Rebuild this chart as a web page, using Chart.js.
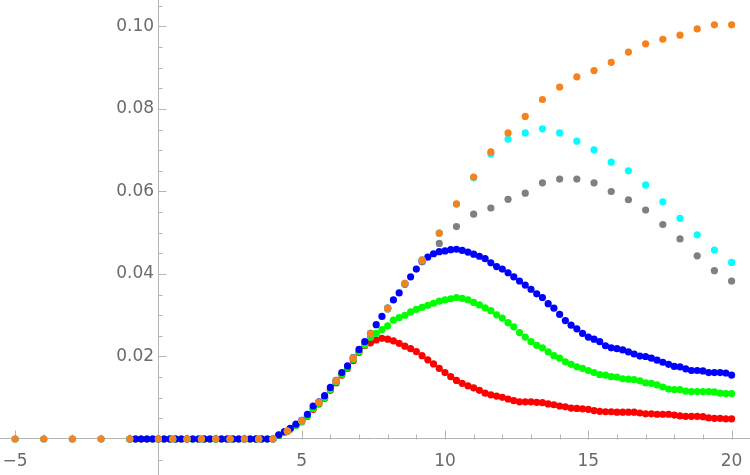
<!DOCTYPE html>
<html>
<head>
<meta charset="utf-8">
<script src="https://cdn.jsdelivr.net/npm/chart.js@4.4.1/dist/chart.umd.min.js"></script>
<style>
  html, body { margin: 0; padding: 0; background: #fff; }
  #wrap { width: 750px; height: 475px; position: relative; }
</style>
</head>
<body>
<div id="wrap"><canvas id="chart"></canvas></div>
<script>
// fine grid (blue / green / red), step 0.2
const fineX = [
  -1.0, -0.8, -0.6, -0.4, -0.2, 0.0, 0.2, 0.4, 0.6, 0.8,
  1.0, 1.2, 1.4, 1.6, 1.8, 2.0, 2.2, 2.4, 2.6, 2.8,
  3.0, 3.2, 3.4, 3.6, 3.8, 4.0,
  4.2, 4.4, 4.6, 4.8, 5.0, 5.2, 5.4, 5.6, 5.8,
  6.0, 6.2, 6.4, 6.6, 6.8, 7.0, 7.2, 7.4, 7.6, 7.8,
  8.0, 8.2, 8.4, 8.6, 8.8, 9.0, 9.2, 9.4, 9.6, 9.8,
  10.0, 10.2, 10.4, 10.6, 10.8, 11.0, 11.2, 11.4, 11.6, 11.8,
  12.0, 12.2, 12.4, 12.6, 12.8, 13.0, 13.2, 13.4, 13.6, 13.8,
  14.0, 14.2, 14.4, 14.6, 14.8, 15.0, 15.2, 15.4, 15.6, 15.8,
  16.0, 16.2, 16.4, 16.6, 16.8, 17.0, 17.2, 17.4, 17.6, 17.8,
  18.0, 18.2, 18.4, 18.6, 18.8, 19.0, 19.2, 19.4, 19.6, 19.8,
  20.0
];

const blueY = [
  0, 0, 0, 0, 0, 0, 0, 0, 0, 0,
  0, 0, 0, 0, 0, 0, 0, 0, 0, 0,
  0, 0, 0, 0, 0, 0,
  0.0010, 0.0018, 0.0026, 0.0036, 0.0045, 0.0060, 0.0080, 0.0090, 0.0105,
  0.0125, 0.0142, 0.0161, 0.0177, 0.0197, 0.0217, 0.0236, 0.0256, 0.0277, 0.0297,
  0.0317, 0.0337, 0.0354, 0.0376, 0.0393, 0.0412, 0.0430, 0.0441, 0.0449, 0.0454,
  0.0456, 0.0459, 0.0460, 0.0457, 0.0453, 0.0448, 0.0443, 0.0437, 0.0427, 0.0418,
  0.0412, 0.0403, 0.0393, 0.0383, 0.0373, 0.0363, 0.0352, 0.0343, 0.0328, 0.0317,
  0.0302, 0.0287, 0.0276, 0.0267, 0.0256, 0.0247, 0.0242, 0.0236, 0.0226, 0.0221,
  0.0219, 0.0216, 0.0211, 0.0206, 0.0201, 0.0200, 0.0196, 0.0191, 0.0186, 0.0181,
  0.0176, 0.0175, 0.0170, 0.0166, 0.0166, 0.0165, 0.0161, 0.0161, 0.0161, 0.0160,
  0.0155
];

const greenY = [
  0, 0, 0, 0, 0, 0, 0, 0, 0, 0,
  0, 0, 0, 0, 0, 0, 0, 0, 0, 0,
  0, 0, 0, 0, 0, 0,
  0.0009, 0.0016, 0.0024, 0.0033, 0.0042, 0.0056, 0.0074, 0.0086, 0.0100,
  0.0120, 0.0138, 0.0157, 0.0173, 0.0193, 0.0212, 0.0228, 0.0246, 0.0256, 0.0265,
  0.0274, 0.0288, 0.0294, 0.0300, 0.0308, 0.0314, 0.0319, 0.0324, 0.0329, 0.0334,
  0.0337, 0.0340, 0.0343, 0.0341, 0.0337, 0.0331, 0.0325, 0.0318, 0.0311, 0.0301,
  0.0293, 0.0282, 0.0272, 0.0258, 0.0247, 0.0236, 0.0227, 0.0221, 0.0211, 0.0202,
  0.0196, 0.0187, 0.0181, 0.0175, 0.0171, 0.0166, 0.0161, 0.0156, 0.0155, 0.0151,
  0.0150, 0.0146, 0.0145, 0.0144, 0.0141, 0.0136, 0.0135, 0.0131, 0.0126, 0.0121,
  0.0120, 0.0120, 0.0116, 0.0115, 0.0115, 0.0115, 0.0115, 0.0114, 0.0111, 0.0110,
  0.0110
];

const redY = [
  0, 0, 0, 0, 0, 0, 0, 0, 0, 0,
  0, 0, 0, 0, 0, 0, 0, 0, 0, 0,
  0, 0, 0, 0, 0, 0,
  0.0009, 0.0016, 0.0024, 0.0033, 0.0042, 0.0055, 0.0072, 0.0085, 0.0099,
  0.0118, 0.0136, 0.0155, 0.0171, 0.0190, 0.0210, 0.0226, 0.0233, 0.0240, 0.0244,
  0.0242, 0.0238, 0.0232, 0.0225, 0.0219, 0.0212, 0.0202, 0.0192, 0.0182, 0.0171,
  0.0161, 0.0151, 0.0142, 0.0135, 0.0129, 0.0124, 0.0118, 0.0111, 0.0107, 0.0104,
  0.0101, 0.0097, 0.0093, 0.0090, 0.0090, 0.0090, 0.0089, 0.0088, 0.0085, 0.0083,
  0.0080, 0.0078, 0.0075, 0.0074, 0.0073, 0.0072, 0.0069, 0.0067, 0.0066, 0.0066,
  0.0065, 0.0065, 0.0065, 0.0065, 0.0063, 0.0061, 0.0061, 0.0060, 0.0060, 0.0060,
  0.0058, 0.0056, 0.0055, 0.0055, 0.0055, 0.0054, 0.0051, 0.0050, 0.0050, 0.0049,
  0.0049
];

// coarse grid (orange / cyan / gray)
const coarseX = [
  -5, -4, -3, -2, -1,
  0, 0.5, 1, 1.5, 2, 2.5, 3, 3.5, 4, 4.5,
  5, 5.6, 6.2, 6.8, 7.4, 8, 8.6, 9.2, 9.8, 10.4, 11, 11.6, 12.2,
  12.8, 13.4, 14, 14.6, 15.2, 15.8, 16.4, 17, 17.6, 18.2, 18.8, 19.4, 20
];

const orangeY = [
  0, 0, 0, 0, 0,
  0, 0, 0, 0, 0, 0, 0, 0, 0, 0.0019,
  0.0044, 0.0089, 0.0141, 0.0196, 0.0256, 0.0317, 0.0377, 0.0434, 0.0499, 0.0570, 0.0635, 0.0696, 0.0742,
  0.0782, 0.0823, 0.0853, 0.0878, 0.0893, 0.0913, 0.0938, 0.0958, 0.0969, 0.0979, 0.0994, 0.1004, 0.1004
];

const cyanY = [
  0, 0, 0, 0, 0,
  0, 0, 0, 0, 0, 0, 0, 0, 0, 0.0019,
  0.0044, 0.0089, 0.0141, 0.0196, 0.0256, 0.0317, 0.0377, 0.0434, 0.0499, 0.0569, 0.0633, 0.0691, 0.0727,
  0.0742, 0.0752, 0.0742, 0.0722, 0.0701, 0.0671, 0.0650, 0.0616, 0.0575, 0.0535, 0.0495, 0.0458, 0.0428
];

const grayY = [
  0, 0, 0, 0, 0,
  0, 0, 0, 0, 0, 0, 0, 0, 0, 0.0019,
  0.0044, 0.0089, 0.0141, 0.0196, 0.0255, 0.0315, 0.0375, 0.0430, 0.0474, 0.0515, 0.0545, 0.0560, 0.0581,
  0.0596, 0.0621, 0.0630, 0.0630, 0.0621, 0.0600, 0.0580, 0.0555, 0.0520, 0.0485, 0.0444, 0.0408, 0.0383
];

// axis ticks
const xTicks = [-5, 5, 10, 15, 20];
const xLabels = ['\u22125', '5', '10', '15', '20'];
const yTicks = [0.02, 0.04, 0.06, 0.08, 0.10];
const yLabels = ['0.02', '0.04', '0.06', '0.08', '0.10'];

const axisColor = '#b4b4b4';
const labelColor = '#6a6a6a';
const labelFont = { family: 'DejaVu Sans', size: 17 };

const toPoints = (xs, ys) => xs.map((x, i) => ({ x, y: ys[i] }));

// axes sit inside the plot, so they should not push the chart area in
const noPadding = (s) => {
    s.paddingTop = 0;
    s.paddingBottom = 0;
    s.paddingLeft = 0;
    s.paddingRight = 0;
};

// tick marks the way Mathematica draws them (inward)
const axisTicks = {
    id: 'axisTicks',
    beforeDatasetsDraw(chart) {
        const { ctx, scales: { x, y } } = chart;
        const x0 = Math.round(x.getPixelForValue(0)) + 0.5;
        const y0 = Math.round(y.getPixelForValue(0)) + 0.5;
        ctx.save();
        ctx.strokeStyle = axisColor;
        ctx.lineWidth = 1;
        ctx.beginPath();
        for (let v = -5; v <= 20; v++) {
            if (v === 0) continue;
            const px = Math.round(x.getPixelForValue(v)) + 0.5;
            const len = v % 5 === 0 ? 9 : 5;
            ctx.moveTo(px, y0);
            ctx.lineTo(px, y0 - len);
        }
        for (let k = -1; k <= 21; k++) {
            if (k === 0) continue;
            const py = Math.round(y.getPixelForValue(k * 0.005)) + 0.5;
            const len = k % 4 === 0 ? 8 : 4;
            ctx.moveTo(x0, py);
            ctx.lineTo(x0 + len, py);
        }
        ctx.stroke();
        ctx.restore();
    }
};

const dot = (color) => ({
    backgroundColor: color,
    borderWidth: 0,
    pointRadius: 3.6,
    pointHoverRadius: 3.6,
    pointBorderWidth: 0
});

new Chart(document.getElementById('chart'), {
    type: 'scatter',
    data: {
        datasets: [
            { label: 'orange', data: toPoints(coarseX, orangeY), ...dot('#f7821c') },
            { label: 'cyan', data: toPoints(coarseX, cyanY), ...dot('#00ffff') },
            { label: 'gray', data: toPoints(coarseX, grayY), ...dot('#808080') },
            { label: 'blue', data: toPoints(fineX, blueY), ...dot('#0000ff') },
            { label: 'green', data: toPoints(fineX, greenY), ...dot('#00ff00') },
            { label: 'red', data: toPoints(fineX, redY), ...dot('#ff0000') }
        ]
    },
    options: {
        responsive: true,
        maintainAspectRatio: false,
        animation: false,
        events: [],
        layout: { padding: 0, autoPadding: false },
        plugins: {
            legend: { display: false },
            tooltip: { enabled: false }
        },
        scales: {
            x: {
                type: 'linear',
                position: { y: 0 },
                min: -5.527,
                max: 20.642,
                afterBuildTicks: (s) => { s.ticks = xTicks.map(v => ({ value: v })); },
                afterFit: noPadding,
                ticks: {
                    autoSkip: false,
                    maxRotation: 0,
                    padding: 12,
                    color: labelColor,
                    font: labelFont,
                    callback: (v, i) => xLabels[i]
                },
                grid: { display: false, drawTicks: false },
                border: { display: true, color: axisColor, width: 1 }
            },
            y: {
                type: 'linear',
                position: { x: 0 },
                min: -0.00873,
                max: 0.10642,
                afterBuildTicks: (s) => { s.ticks = yTicks.map(v => ({ value: v })); },
                afterFit: noPadding,
                ticks: {
                    autoSkip: false,
                    padding: 6,
                    color: labelColor,
                    font: labelFont,
                    // padding is ignored for an axis placed by value, so keep a small gap
                    callback: (v, i) => yLabels[i] + '\u2005'
                },
                grid: { display: false, drawTicks: false },
                border: { display: true, color: axisColor, width: 1 }
            }
        }
    },
    plugins: [axisTicks]
});
</script>
</body>
</html>
